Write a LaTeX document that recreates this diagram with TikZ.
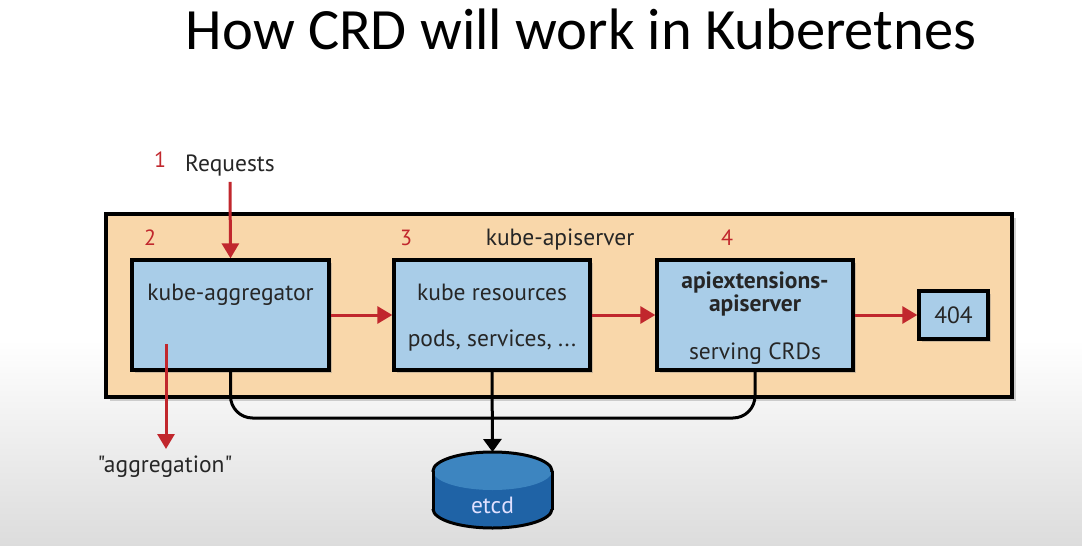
\documentclass[tikz,border=0pt]{standalone}
\usepackage{fontspec}
\setmainfont{PT Sans}
\newfontfamily\titlefont{Carlito}
\newfontfamily\qfont{PT Sans}
\usetikzlibrary{arrows.meta,shadows}
\definecolor{peach}{HTML}{F9D7AA}
\definecolor{boxblue}{HTML}{A9CDE8}
\definecolor{redarr}{HTML}{C1272D}
\definecolor{etcdbody}{HTML}{1F63A6}
\definecolor{etcdtopc}{HTML}{3D85C0}
\definecolor{bggray}{HTML}{DCDCDC}
\begin{document}
\begin{tikzpicture}[x=1pt,y=-1pt,
  comp/.style={draw=black, line width=3.3pt, fill=boxblue, inner sep=0pt,
    drop shadow={opacity=0.35, shadow xshift=3pt, shadow yshift=-3pt}},
  lbl/.style={font=\fontsize{23.5}{27}\selectfont, text=black!85, inner sep=0pt},
  num/.style={font=\fontsize{22}{26}\selectfont, text=redarr, inner sep=0pt},
  redarrow/.style={draw=redarr, line width=3pt, -{Triangle[length=15pt,width=17pt]}},
  busline/.style={draw=black, line width=3pt},
]
\useasboundingbox (0,0) rectangle (1082,546);
\fill[white] (0,0) rectangle (1082,546);
\shade[top color=white, bottom color=bggray] (0,340) rectangle (1082,546);

\node[font=\titlefont\fontsize{58.5}{62}\selectfont, inner sep=0pt, anchor=base] (title) at (581,49) {How CRD will work in Kuberetnes};

% outer apiserver box
\node[draw=black, line width=3.3pt, fill=peach, minimum width=906pt, minimum height=183pt, inner sep=0pt,
  drop shadow={opacity=0.35, shadow xshift=4pt, shadow yshift=-4pt}] (api) at (559,305.5) {};
\node[lbl, anchor=base] (apil) at (560,245) {kube-apiserver};

\node[num, anchor=base] (n1) at (160,167) {1};
\node[lbl, anchor=base] (req) at (230,171) {Requests};
\node[num, anchor=base] (n2) at (150,245) {2};
\node[num, anchor=base] (n3) at (406,245) {3};
\node[num, anchor=base] (n4) at (727,245) {4};

\node[comp, minimum width=197pt, minimum height=110pt] (agg) at (230.5,315) {};
\node[lbl, anchor=base] (aggl) at (230.5,300) {kube-aggregator};

\node[comp, minimum width=196pt, minimum height=110pt] (res) at (492,315) {};
\node[lbl, anchor=base] (resl1) at (492,300) {kube resources};
\node[lbl, anchor=base] (resl2) at (492,346) {pods, services, ...};

\node[comp, minimum width=196pt, minimum height=110pt] (ext) at (755,315) {};
\node[lbl, font=\fontsize{23.5}{23}\selectfont\bfseries, anchor=base] (extl1) at (755,288) {apiextensions-};
\node[lbl, font=\fontsize{23.5}{23}\selectfont\bfseries, anchor=base] (extl2) at (755,311) {apiserver};
\node[lbl, anchor=base] (extl3) at (755,359) {serving CRDs};

\node[comp, minimum width=69pt, minimum height=48pt] (nf) at (953.5,315) {};
\node[lbl, anchor=base] (nfl) at (953.5,323) {404};

% etcd cylinder
\fill[etcdbody] (433,471) rectangle (552,509);
\fill[etcdbody] (492.5,509) ellipse (59.5 and 19);
\fill[etcdtopc] (492.5,471) ellipse (59.5 and 19);
\begin{scope}
  \clip (420,509) rectangle (570,540);
  \draw[line width=3pt] (492.5,509) ellipse (59.5 and 19);
\end{scope}
\begin{scope}
  \clip (420,440) rectangle (570,471);
  \draw[line width=3pt] (492.5,471) ellipse (59.5 and 19);
\end{scope}
\draw[line width=3pt] (433,470.5) -- (433,509.5);
\draw[line width=3pt] (552,470.5) -- (552,509.5);
\node[lbl, text=white!88!blue, anchor=base] (etcdl) at (492.5,513) {etcd};
\coordinate (etcdtop) at (492.5,452);

\node[lbl, font=\qfont\fontsize{23.5}{27}\selectfont, anchor=base] (aggr) at (165,472) {"aggregation"};
\coordinate (aggsrc) at (166,344);
\coordinate (aggend) at (166,449);
\coordinate (bus) at (0,418);

% connectors
\draw[redarrow] (req.south) ++(0,6) -- (agg.north);
\draw[redarrow] (agg.east) -- (res.west);
\draw[redarrow] (res.east) -- (ext.west);
\draw[redarrow] (ext.east) -- (nf.west);
\draw[redarrow] (aggsrc) -- (aggend);
\draw[busline, rounded corners=22pt] (agg.south) |- (ext.south |- bus) -- (ext.south);
\draw[busline, -{Triangle[length=13pt,width=18pt]}] (res.south) -- (etcdtop);
\end{tikzpicture}
\end{document}
